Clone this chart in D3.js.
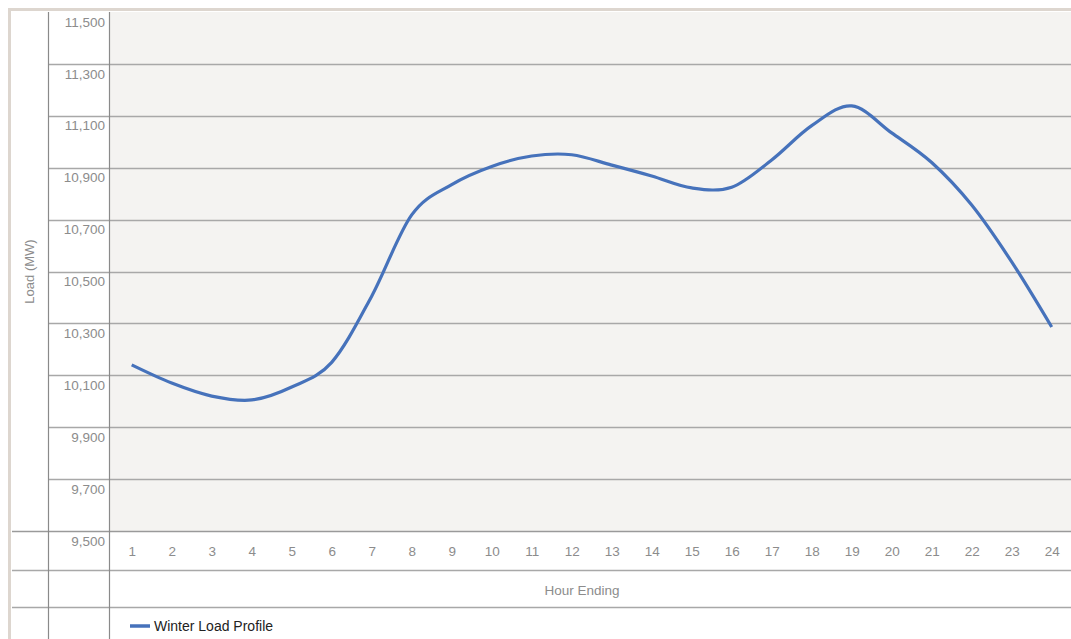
<!DOCTYPE html>
<html>
<head>
<meta charset="utf-8">
<script src="https://cdn.jsdelivr.net/npm/d3@7"></script>
<style>
body { margin: 0; background: #fff; }
text { font-family: "Liberation Sans", Arial, Helvetica, sans-serif; fill: #8c8c8c; }
</style>
</head>
<body>
<svg width="1071" height="639"></svg>
<script>
var hours = [1,2,3,4,5,6,7,8,9,10,11,12,13,14,15,16,17,18,19,20,21,22,23,24];
var winterLoad = [10140,10070,10020,10005,10055,10150,10405,10718,10835,10905,10945,10950,
                  10910,10868,10822,10825,10930,11062,11138,11034,10920,10756,10537,10286];
var yTicks = [9500,9700,9900,10100,10300,10500,10700,10900,11100,11300,11500];
var seriesName = "Winter Load Profile";
var xTitle = "Hour Ending";
var yTitle = "Load (MW)";

var svg = d3.select("svg"),
    width = +svg.attr("width"),
    height = +svg.attr("height");

var plotLeft = 109, plotTop = 12, plotBottom = 531, labelCol = 48, frame = 12;
var row1 = 570, row2 = 607;

var x = d3.scalePoint().domain(hours).range([131.7, 1051.7]);
var y = d3.scaleLinear().domain([9500, 11500]).range([plotBottom, plotTop]);

// outer frame (beige)
svg.append("rect")
    .attr("x", 9.5).attr("y", 9.5)
    .attr("width", width).attr("height", height)
    .attr("fill", "none")
    .attr("stroke", "#ddd6cf")
    .attr("stroke-width", 3);

// plot background
svg.append("rect")
    .attr("x", plotLeft).attr("y", plotTop)
    .attr("width", width - plotLeft).attr("height", plotBottom - plotTop)
    .attr("fill", "#f4f3f1");

// horizontal gridlines
svg.append("g")
    .selectAll("line")
    .data(yTicks.filter(function(d) { return d < 11500; }))
    .enter().append("line")
    .attr("x1", function(d) { return d === 9500 ? frame : labelCol; })
    .attr("x2", width)
    .attr("y1", function(d) { return Math.round(y(d)) + 0.5; })
    .attr("y2", function(d) { return Math.round(y(d)) + 0.5; })
    .attr("stroke", function(d) { return d === 9500 ? "#9a9a9a" : "#a8a8a8"; })
    .attr("stroke-width", 1.4);

// table rows under the plot
svg.append("g")
    .selectAll("line")
    .data([row1, row2])
    .enter().append("line")
    .attr("x1", frame).attr("x2", width)
    .attr("y1", function(d) { return d + 0.5; })
    .attr("y2", function(d) { return d + 0.5; })
    .attr("stroke", "#a8a8a8")
    .attr("stroke-width", 1.4);

// vertical dividers
svg.append("g")
    .selectAll("line")
    .data([labelCol, plotLeft])
    .enter().append("line")
    .attr("x1", function(d) { return d + 0.5; })
    .attr("x2", function(d) { return d + 0.5; })
    .attr("y1", plotTop).attr("y2", height)
    .attr("stroke", "#8a8a8a")
    .attr("stroke-width", 1.2);

// y axis labels (sit just under each gridline)
var yAxis = d3.axisLeft(y).tickValues(yTicks).tickSize(0).tickPadding(0)
    .tickFormat(d3.format(","));
var gy = svg.append("g")
    .attr("transform", "translate(105,0)")
    .call(yAxis);
gy.select(".domain").remove();
gy.selectAll("text")
    .attr("dy", "1.05em")
    .style("font-size", "13.5px")
    .style("font-family", "Liberation Sans, Arial, sans-serif")
    .attr("fill", "#8c8c8c");

// x axis labels
var xAxis = d3.axisBottom(x).tickSize(0).tickPadding(0);
var gx = svg.append("g")
    .attr("transform", "translate(0,545)")
    .call(xAxis);
gx.select(".domain").remove();
gx.selectAll("text")
    .attr("dy", "0.78em")
    .style("font-size", "13.5px")
    .style("font-family", "Liberation Sans, Arial, sans-serif")
    .attr("fill", "#8c8c8c");

// titles
svg.append("text")
    .attr("x", 582).attr("y", 595)
    .attr("text-anchor", "middle")
    .style("font-size", "13.5px")
    .text(xTitle);

svg.append("text")
    .attr("transform", "translate(34," + (plotTop + plotBottom) / 2 + ") rotate(-90)")
    .attr("text-anchor", "middle")
    .style("font-size", "13px")
    .text(yTitle);

// series line
var line = d3.line()
    .x(function(d, i) { return x(hours[i]); })
    .y(function(d) { return y(d); })
    .curve(d3.curveCardinal.tension(0));

svg.append("path")
    .datum(winterLoad)
    .attr("fill", "none")
    .attr("stroke", "#4672bb")
    .attr("stroke-width", 3.2)
    .attr("stroke-linejoin", "round")
    .attr("d", line);

// legend
var legend = svg.append("g").attr("transform", "translate(130,626)");
legend.append("line")
    .attr("x1", 0).attr("x2", 20)
    .attr("stroke", "#4672bb")
    .attr("stroke-width", 3.5);
legend.append("text")
    .attr("x", 24).attr("y", 5)
    .style("font-size", "14px")
    .style("fill", "#222")
    .text(seriesName);
</script>
</body>
</html>
